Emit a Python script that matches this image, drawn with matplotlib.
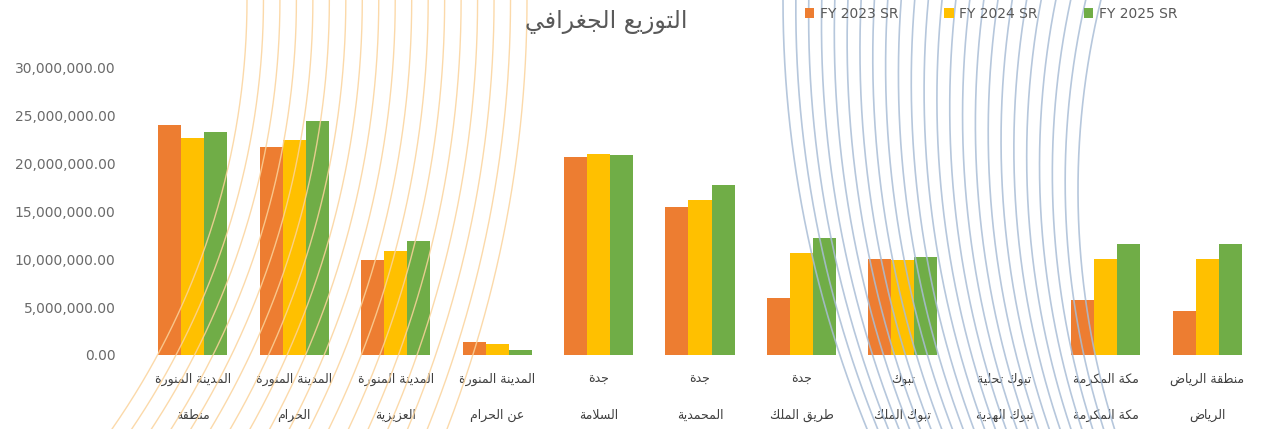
import numpy as np
import matplotlib
matplotlib.use("Agg")
import matplotlib.pyplot as plt
from matplotlib.patches import Patch

# ---------------- data ----------------
cat_top = ["المدينة المنورة", "المدينة المنورة", "المدينة المنورة", "المدينة المنورة",
           "جدة", "جدة", "جدة", "تبوك", "تبوك تحلية", "مكة المكرمة", "منطقة الرياض"]
cat_bottom = ["منطقة", "الحرام", "العزيزية", "عن الحرام", "السلامة", "المحمدية",
              "طريق الملك", "تبوك الملك", "تبوك الهدية", "مكة المكرمة", "الرياض"]
series_names = ["FY 2023 SR", "FY 2024 SR", "FY 2025 SR"]
fy2023 = [24.0e6, 21.7e6, 9.9e6, 1.35e6, 20.7e6, 15.5e6, 6.0e6, 10.0e6, 0.0, 5.8e6, 4.6e6]
fy2024 = [22.7e6, 22.5e6, 10.9e6, 1.15e6, 21.0e6, 16.2e6, 10.7e6, 9.9e6, 0.0, 10.0e6, 10.0e6]
fy2025 = [23.3e6, 24.5e6, 11.9e6, 0.5e6, 20.9e6, 17.8e6, 12.2e6, 10.2e6, 0.0, 11.6e6, 11.6e6]
yticks = [0, 5e6, 10e6, 15e6, 20e6, 25e6, 30e6]
title = "التوزيع الجغرافي"

colors = ["#ED7D31", "#FFC000", "#70AD47"]

# ---------------- minimal Arabic shaping ----------------
FORMS = {
    'ا': (0xFE8D, 0xFE8E, None, None), 'ب': (0xFE8F, 0xFE90, 0xFE91, 0xFE92),
    'ة': (0xFE93, 0xFE94, None, None), 'ت': (0xFE95, 0xFE96, 0xFE97, 0xFE98),
    'ج': (0xFE9D, 0xFE9E, 0xFE9F, 0xFEA0), 'ح': (0xFEA1, 0xFEA2, 0xFEA3, 0xFEA4),
    'د': (0xFEA9, 0xFEAA, None, None), 'ر': (0xFEAD, 0xFEAE, None, None),
    'ز': (0xFEAF, 0xFEB0, None, None), 'س': (0xFEB1, 0xFEB2, 0xFEB3, 0xFEB4),
    'ص': (0xFEB9, 0xFEBA, 0xFEBB, 0xFEBC), 'ط': (0xFEC1, 0xFEC2, 0xFEC3, 0xFEC4),
    'ع': (0xFEC9, 0xFECA, 0xFECB, 0xFECC), 'غ': (0xFECD, 0xFECE, 0xFECF, 0xFED0),
    'ف': (0xFED1, 0xFED2, 0xFED3, 0xFED4), 'ق': (0xFED5, 0xFED6, 0xFED7, 0xFED8),
    'ك': (0xFED9, 0xFEDA, 0xFEDB, 0xFEDC), 'ل': (0xFEDD, 0xFEDE, 0xFEDF, 0xFEE0),
    'م': (0xFEE1, 0xFEE2, 0xFEE3, 0xFEE4), 'ن': (0xFEE5, 0xFEE6, 0xFEE7, 0xFEE8),
    'ه': (0xFEE9, 0xFEEA, 0xFEEB, 0xFEEC), 'و': (0xFEED, 0xFEEE, None, None),
    'ي': (0xFEF1, 0xFEF2, 0xFEF3, 0xFEF4),
}


def shape(text):
    chars = list(text)
    out = []
    i = 0
    n = len(chars)

    def joins_next(c):
        return c in FORMS and FORMS[c][2] is not None

    while i < n:
        c = chars[i]
        if c not in FORMS:
            out.append(c)
            i += 1
            continue
        prev = chars[i - 1] if i > 0 else None
        prev_j = prev is not None and joins_next(prev)
        if c == 'ل' and i + 1 < n and chars[i + 1] == 'ا':
            out.append(chr(0xFEFC if prev_j else 0xFEFB))
            i += 2
            continue
        nxt = chars[i + 1] if i + 1 < n else None
        next_j = nxt is not None and nxt in FORMS and joins_next(c)
        iso, fin, ini, med = FORMS[c]
        if prev_j and next_j:
            g = med
        elif prev_j:
            g = fin
        elif next_j:
            g = ini
        else:
            g = iso
        out.append(chr(g))
        i += 1
    return "".join(out)[::-1]


# ---------------- figure ----------------
W, H = 1264, 429
fig = plt.figure(figsize=(W / 100, H / 100), dpi=100)
fig.patch.set_facecolor("white")

ax = fig.add_axes([142 / W, 1 - 355 / H, (1258 - 142) / W, (355 - 68) / H])
ax.set_facecolor("none")
x = np.arange(len(cat_top))
bw = 0.227
for k, (vals, col) in enumerate(zip([fy2023, fy2024, fy2025], colors)):
    ax.bar(x + (k - 1) * bw, vals, width=bw, color=col, zorder=2)

ax.set_xlim(-0.5, len(cat_top) - 0.5)
ax.set_ylim(0, 30e6)
ax.set_yticks(yticks)
ax.set_yticklabels([f"{v:,.2f}" for v in yticks], fontsize=10, color="#6a6a6a")
ax.tick_params(axis="y", length=0, pad=19)
ax.set_xticks([])
for s in ax.spines.values():
    s.set_visible(False)

for i in range(len(cat_top)):
    ax.text(i, -0.085, shape(cat_top[i]), transform=ax.get_xaxis_transform(),
            ha="center", va="center", fontsize=9, color="#404040", family="DejaVu Sans")
    ax.text(i, -0.21, shape(cat_bottom[i]), transform=ax.get_xaxis_transform(),
            ha="center", va="center", fontsize=9, color="#404040", family="DejaVu Sans")

fig.text(606 / W, 1 - 22 / H, shape(title), ha="center", va="center",
         fontsize=17, color="#595959", family="DejaVu Sans")

handles = [Patch(facecolor=c, edgecolor="none") for c in colors]
fig.legend(handles, series_names, ncol=3, loc="center",
           bbox_to_anchor=(991 / W, 1 - 14 / H), frameon=False,
           handlelength=0.7, handleheight=0.7, handletextpad=0.4,
           columnspacing=3.3, fontsize=10, labelcolor="#595959")

# ---------------- decorative arcs (overlay) ----------------
ov = fig.add_axes([0, 0, 1, 1])
ov.set_xlim(0, W)
ov.set_ylim(H, 0)
ov.axis("off")
ov.set_facecolor("none")
yy = np.linspace(0, H, 300)
n_or = 18
for k in range(n_or):
    t = k / (n_or - 1)
    xt = 247 + t * 280
    d = 135 - 55 * t
    r = (H ** 2 + d ** 2) / (2 * d)
    cx = xt - r
    xs = cx + np.sqrt(np.clip(r ** 2 - yy ** 2, 0, None))
    ov.plot(xs, yy, color="#fbd39b", lw=1.0, alpha=0.85, zorder=5)

n_bl = 24
for k in range(n_bl):
    t = k / (n_bl - 1)
    xv = 783 + t * 295
    yv = 0 + t * 190
    r = 1137 - t * 337
    cx = xv + r
    xs = cx - np.sqrt(np.clip(r ** 2 - (yy - yv) ** 2, 0, None))
    ov.plot(xs, yy, color="#a9bdd6", lw=1.2, alpha=0.85, zorder=5)

fig.savefig("out.png", dpi=100)
